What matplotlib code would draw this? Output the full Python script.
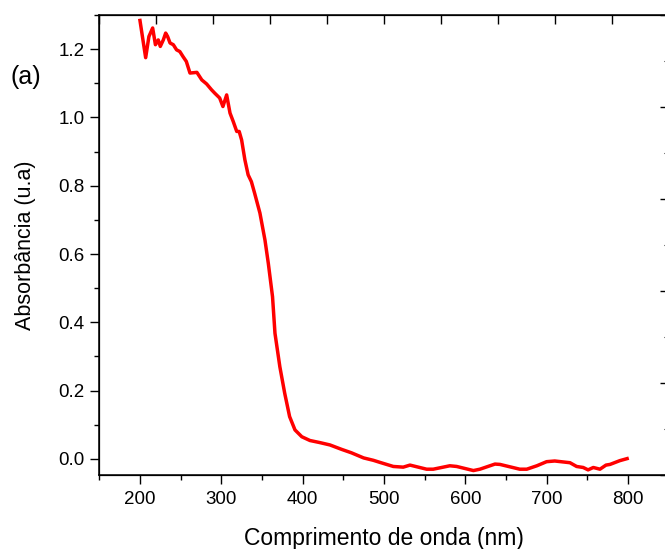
import matplotlib
matplotlib.use("Agg")
import matplotlib.pyplot as plt
from matplotlib.ticker import MultipleLocator

plt.rcParams['font.family'] = ['Liberation Sans', 'DejaVu Sans']

wavelength = [200, 207, 211, 215.6, 219, 222.5, 225, 228.7, 231.6, 234, 237, 241, 245, 249,
              253, 257, 261.5, 270, 276, 282, 288, 292, 298, 302, 306.6, 310.7, 314.7, 319,
              322, 325, 329, 333, 337, 341, 347.5, 353.7, 357.8, 363, 366, 372, 378, 384,
              390.6, 399, 409, 421, 433.6, 448, 460, 475, 487, 495, 511.5, 523.7, 532,
              552.5, 560.6, 581, 589.4, 610, 618, 636.5, 642.6, 667, 675.6, 688, 700, 710,
              728.7, 736.9, 745, 751, 757.4, 765.6, 773, 778, 790, 799]
absorbance = [1.284, 1.175, 1.237, 1.262, 1.213, 1.227, 1.208, 1.227, 1.247, 1.237, 1.218,
              1.213, 1.198, 1.193, 1.178, 1.164, 1.130, 1.132, 1.110, 1.098, 1.081, 1.071,
              1.057, 1.032, 1.066, 1.013, 0.988, 0.959, 0.959, 0.934, 0.876, 0.832, 0.812,
              0.778, 0.720, 0.641, 0.573, 0.475, 0.368, 0.270, 0.192, 0.124, 0.085, 0.065,
              0.054, 0.048, 0.041, 0.028, 0.018, 0.003, -0.004, -0.010, -0.022, -0.024,
              -0.018, -0.030, -0.030, -0.020, -0.022, -0.034, -0.030, -0.015, -0.016,
              -0.030, -0.030, -0.020, -0.008, -0.006, -0.011, -0.022, -0.025, -0.032,
              -0.025, -0.030, -0.018, -0.016, -0.005, 0.001]

x_ticks = [200, 300, 400, 500, 600, 700, 800]
y_ticks = [0.0, 0.2, 0.4, 0.6, 0.8, 1.0, 1.2]

fig = plt.figure(figsize=(6.65, 5.49), dpi=100)
ax = fig.add_axes([99.3 / 665, 74 / 549, 569.3 / 665, 460 / 549])
ax.plot(wavelength, absorbance, color='#ff0000', lw=2.5, solid_joinstyle='round')
ax.set_xlim(150, 850)
ax.set_ylim(-0.047, 1.30)
ax.set_xticks(x_ticks)
ax.set_yticks(y_ticks)
ax.set_yticklabels([f"{v:.1f}" for v in y_ticks])
ax.xaxis.set_minor_locator(MultipleLocator(50))
ax.yaxis.set_minor_locator(MultipleLocator(0.1))
ax.tick_params(axis='both', which='major', direction='out', length=6.5, width=1, labelsize=13.5)
ax.tick_params(axis='both', which='minor', direction='out', length=3.6, width=1)
ax.tick_params(axis='x', which='major', length=6.5, pad=5)
ax.tick_params(axis='y', which='major', pad=4)
for sp in ax.spines.values():
    sp.set_linewidth(1.1)

ax.set_xlabel('Comprimento de onda (nm)', fontsize=16.5, labelpad=13.5)
ax.set_ylabel('Absorbância (u.a)', fontsize=15.5, labelpad=16)

# top and right frame ticks (unlabelled)
axt = ax.twiny()
axt.set_xlim(0, 1)
axt.set_xticks([i / 10 for i in range(11)])
axt.tick_params(axis='x', direction='in', length=6.5, width=1, labeltop=False)
axr = ax.twinx()
axr.set_ylim(0, 1)
axr.set_yticks([i / 5 for i in range(6)])
axr.yaxis.set_minor_locator(MultipleLocator(0.1))
axr.tick_params(axis='y', which='major', direction='in', length=6.5, width=1, labelright=False)
axr.tick_params(axis='y', which='minor', direction='in', length=3.6, width=0.8, labelright=False)

fig.text(10 / 665, 1 - 77 / 549, '(a)', fontsize=18, va='center', ha='left')

fig.savefig('out.png', dpi=100)
